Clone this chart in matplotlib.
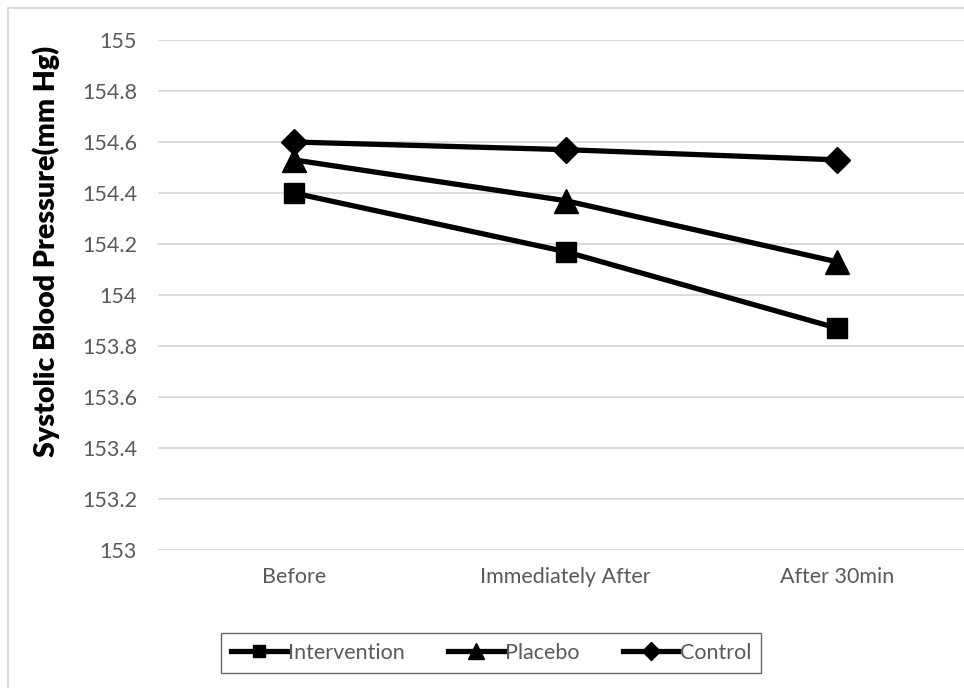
import matplotlib.pyplot as plt
from matplotlib.patches import Rectangle

plt.rcParams['font.family'] = ['Lato', 'DejaVu Sans']

categories = ['Before', 'Immediately After', 'After 30min']
intervention = [154.40, 154.17, 153.87]
placebo = [154.53, 154.37, 154.13]
control = [154.60, 154.57, 154.53]
yticks = [153, 153.2, 153.4, 153.6, 153.8, 154, 154.2, 154.4, 154.6, 154.8, 155]

W, H = 964, 688
fig = plt.figure(figsize=(W / 100, H / 100), dpi=100)

# chart border (right and bottom edges are cropped in the reference)
fig.patches.append(Rectangle((8 / W, -0.1), 1.2, 1 - 8 / H + 0.1,
                             transform=fig.transFigure, fill=False,
                             edgecolor='#d9d9d9', linewidth=1.3))

ax = fig.add_axes([158 / W, 1 - 550 / H, 815 / W, 510 / H])
x = range(len(categories))
series = [(intervention, 's', 14, 'Intervention'),
          (placebo, '^', 17, 'Placebo'),
          (control, 'D', 13.5, 'Control')]
for vals, mk, ms, lab in series:
    ax.plot(x, vals, color='black', linewidth=3.8, marker=mk, markersize=ms,
            label=lab, clip_on=False)

ax.set_xlim(-0.5, 2.5)
ax.set_ylim(153, 155)
ax.set_yticks(yticks)
ax.set_yticklabels([f'{v:g}' for v in yticks])
ax.set_xticks(list(x))
ax.set_xticklabels(categories)
ax.grid(axis='y', color='#d9d9d9', linewidth=1.3)
ax.set_axisbelow(True)
for s in ax.spines.values():
    s.set_visible(False)
ax.tick_params(length=0, labelsize=15.5, labelcolor='#595959')
ax.tick_params(axis='y', pad=15)
ax.tick_params(axis='x', pad=12)

fig.text(46 / W, 1 - 251 / H, 'Systolic Blood Pressure(mm Hg)', rotation=90,
         ha='center', va='center', fontsize=20.5, fontweight='heavy', color='black')

leg = fig.legend(loc='center', bbox_to_anchor=(491 / W, 1 - 653 / H), ncol=3,
                 frameon=True, fancybox=False, fontsize=15.5, markerscale=0.65,
                 handlelength=2.6, handletextpad=0.05, columnspacing=2.0,
                 borderpad=0.45, borderaxespad=0)
leg.get_frame().set_edgecolor('#404040')
leg.get_frame().set_linewidth(1)
for t in leg.get_texts():
    t.set_color('#595959')

fig.savefig('out.png', dpi=100)
